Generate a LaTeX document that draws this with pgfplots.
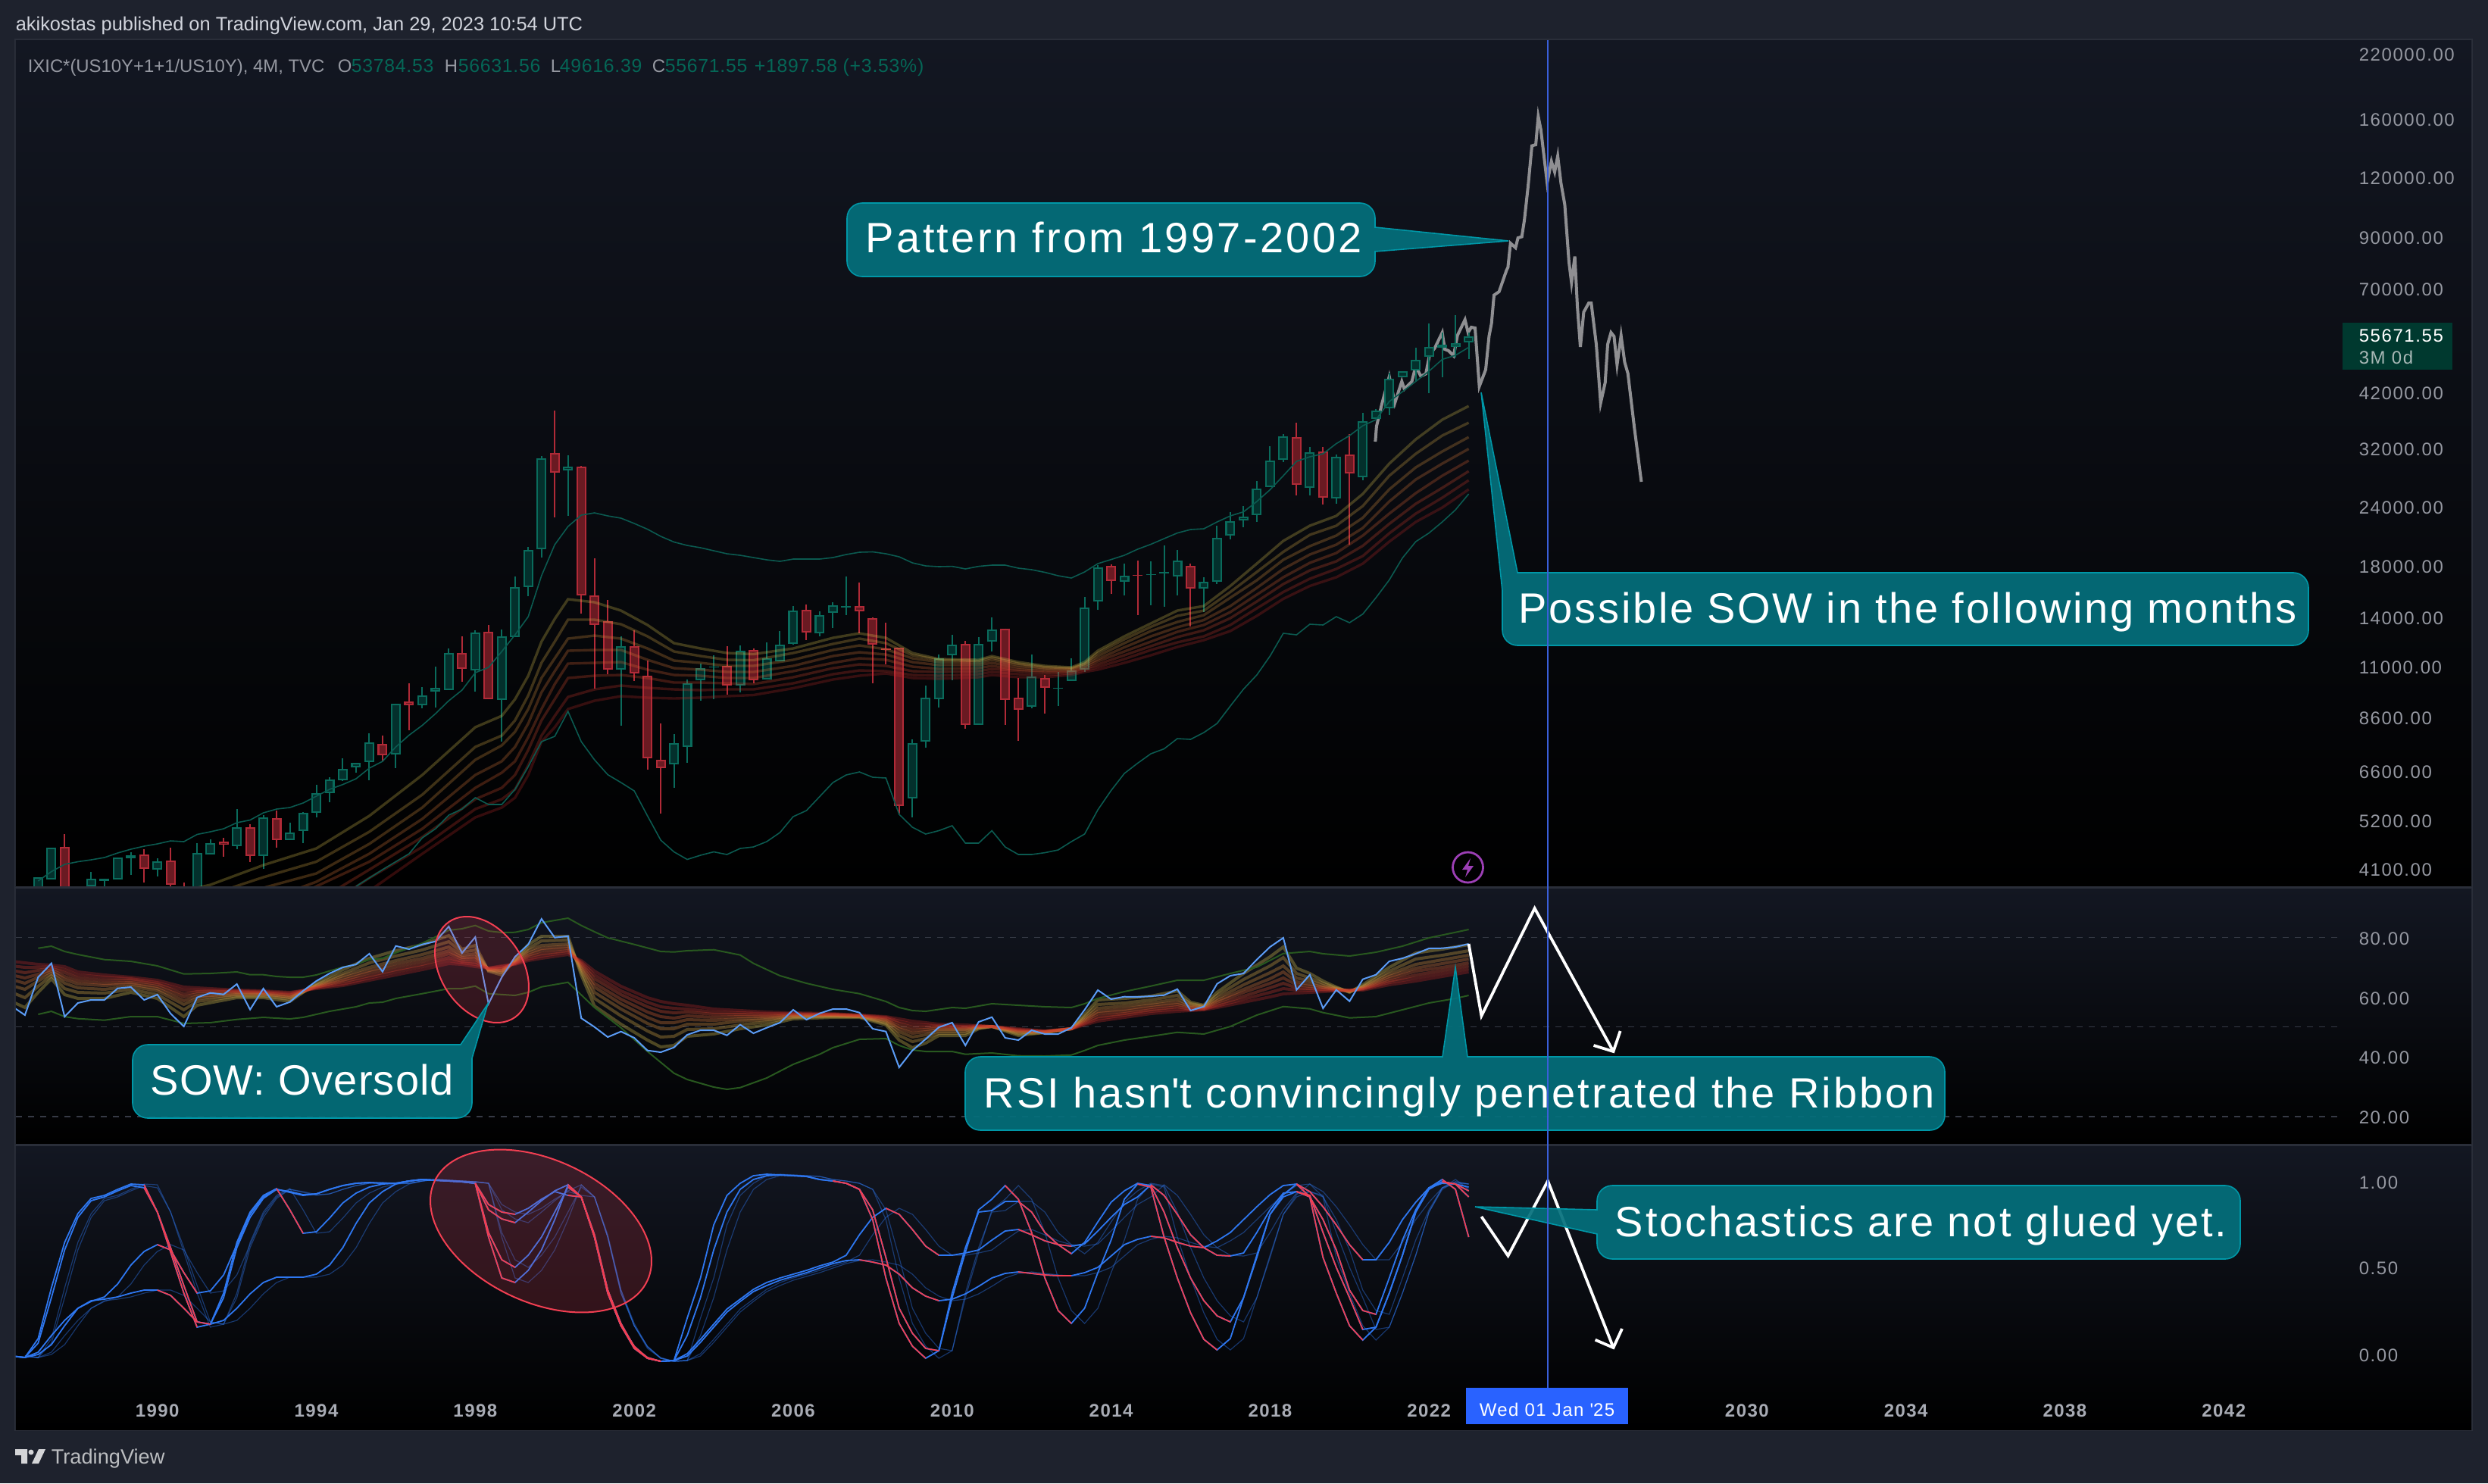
\documentclass[border=0pt]{standalone}
\usepackage{fontspec}
\setmainfont{Liberation Sans}
\usepackage{pgfplots}
\usepackage{pgfplotstable}
\pgfplotsset{compat=1.18}
\definecolor{page}{HTML}{1E222D}
\definecolor{frame}{HTML}{2A2E39}
\definecolor{dashc}{HTML}{363A45}
\definecolor{panetop}{HTML}{131722}
\definecolor{upc}{HTML}{0A6B5C}
\definecolor{upf}{HTML}{03302C}
\definecolor{dnc}{HTML}{B02A37}
\definecolor{dnf}{HTML}{6A1A22}
\definecolor{bbteal}{HTML}{0B5A50}
\definecolor{bbgreen}{HTML}{28581F}
\definecolor{rsil}{HTML}{5B9CF6}
\definecolor{kblue}{HTML}{2E77F0}
\definecolor{kred}{HTML}{F23F52}
\definecolor{callf}{HTML}{04707C}
\definecolor{callb}{HTML}{0097A7}
\definecolor{txtg}{HTML}{9598A1}
\definecolor{yrg}{HTML}{A8ABB4}
\definecolor{valg}{HTML}{056656}
\definecolor{patg}{HTML}{8F8F92}
\definecolor{xhair}{HTML}{3A5FD9}
\definecolor{dateb}{HTML}{2962FF}
\definecolor{tagf}{HTML}{00392F}
\definecolor{bolt}{HTML}{9C3FB5}
\definecolor{hdrt}{HTML}{D1D4DC}
\definecolor{rb1}{HTML}{E0C850}
\definecolor{rb2}{HTML}{E0B048}
\definecolor{rb3}{HTML}{E09640}
\definecolor{rb4}{HTML}{E07C3A}
\definecolor{rb5}{HTML}{E06434}
\definecolor{rb6}{HTML}{DC4C30}
\definecolor{rb7}{HTML}{D0382C}
\definecolor{rb8}{HTML}{C02A28}

\newcommand\tk{\fontsize{6}{7}\selectfont\addfontfeature{LetterSpace=6.5}}
\newcommand\yr{\fontsize{6}{7}\selectfont\bfseries\addfontfeature{LetterSpace=6}}
\newcommand\datetxt{\fontsize{6}{7}\selectfont\addfontfeature{LetterSpace=6}}
\newcommand\bigtxt[1]{\fontsize{14}{17}\selectfont\addfontfeature{LetterSpace=#1}}

% every y below is a row of the reference, counted down from its top edge:
% the price pane is a log scale, so its ticks carry the prices as labels.
% i is the number of the 4-month bar, bar 0 being Jan 1987.

% i high top bottom low
\pgfplotstableread{
i h top bot l
0 1158 1158 1176.6 1176.6
1 1119 1119 1161 1161
3 1170 1170 1181 1181
4 1151.4 1160 1170 1180
5 1159.6 1159.6 1162.7 1175
6 1131.5 1131.5 1161 1161
7 1124.5 1129 1132.8 1155
9 1133 1136.7 1148.4 1157
12 1113 1126 1177 1177
13 1108 1113 1128 1128
15 1068 1092 1117 1120.6
17 1076 1078.5 1130 1147
19 1086 1099 1109 1109
20 1071.6 1073 1097 1113
21 1035.6 1047 1073 1078.5
22 1025.6 1028.7 1046.5 1058.6
23 1001 1014.8 1029.5 1031
24 1007 1007 1013 1019.6
25 967.5 979.7 1006 1030
27 928.5 928.5 996 1014
29 906.8 917.6 931 935
30 880 907.7 913.3 933.7
31 855.6 861.7 911 911
33 831.8 835 885 913
35 830.5 839.6 924 979
36 761 775.4 841 841
37 722 726.4 775 787
38 602 604.5 725 736
40 601 616 621 681
44 839.6 852.6 884 957.5
48 969 981.4 1009 1039.5
49 897 901.6 986 1006.6
50 875.6 882 898 925
51 865 879.5 880.8 923
53 852 859 905 914
55 847.6 869 897 897
56 833 851 873 873
57 799.5 805.8 849.8 851
59 807 811.6 835.5 839.7
60 794.7 799 809 829
61 760.8 800 801.6 812
66 975.8 981 1054 1078.5
67 904.8 920.7 979 987
68 864 869 922.8 934
69 838 851 864.6 898
71 841 849.8 957 957
72 814.8 831 847 860
75 864 892.6 933.4 935
77 886.8 907.5 908.5 932
78 868.8 885 899 899
79 787.8 801.6 884 887
80 745.5 748.6 794 805
82 744 759.7 767.7 785.7
84 741 757.6 759 799
85 720 754.5 756.6 800.5
86 725.9 740 761 785.7
88 761.9 768 777 808
89 693.6 710 767.7 770.9
90 675.6 688 707 711.6
91 667.6 682 687 696
92 635 644.9 680 689
93 589 608 642.8 642.8
94 572.9 575.5 607 610
96 589.8 596.7 644 653.9
98 600.4 602.5 658 665
100 544.8 556 630 634
101 539.5 541.6 553.3 553.3
102 491.9 499.8 539 547.5
103 489.8 489.8 498 498
104 458.5 475 488.7 503.5
105 427 458 471 519
106 439 454.8 458.5 498
107 416 453 457.5 471.8
108 439 444 452 473.9
}\upbars
\pgfplotstableread{
i h top bot l
2 1100.7 1117.6 1177 1177
8 1121 1128.4 1147 1165
10 1119 1135.8 1168 1177
11 1165 1169.6 1177 1177
14 1106 1110.6 1115.4 1131
16 1087.7 1092 1130 1138
18 1069.5 1080 1109 1119
26 970.6 981.8 997 1005
28 902 925.5 931 964
32 840 861.7 882.5 900
34 824.8 834.4 923.3 923.3
39 542 597.6 624 682.6
41 615 616 786 810
42 737 786 825 908.5
43 792 820 884 889.5
45 832 852.6 889 899
46 872 891.6 1000.5 1016
47 955 1002.7 1013.5 1073.8
52 853 878.6 905 917
54 855.6 857.8 897.7 902
58 798.4 804.8 835 844.5
62 769 800 807.4 836
63 814.8 815.9 850.8 901.6
64 822 855.6 858 877
65 854.5 854.5 1064 1074
70 846 849.8 957 961.5
73 829.6 829.6 923.9 957
74 895 920.7 937 978.4
76 891 894.8 908 942.4
81 745 746.5 767 784
83 740 758.7 760 811.6
87 744.4 746.5 777 827
95 558 576.6 639.6 654.4
97 589.8 595.6 657 665.5
99 572.9 600.4 624.8 718.5
}\dnbars

\pgfplotstableread{
i a b c d e f g h
9 1184 1205 1225 1245 1260 1275 1290 1305
13 1168 1181 1198 1215 1229 1243 1258 1272
17 1142 1158 1172 1190 1205 1220 1235 1250
21 1120 1137.5 1153 1164 1170 1190 1205 1220
25 1077 1098 1114 1127 1137.5 1148 1159 1176
29 1023 1049 1066 1081 1094 1105 1118 1127
33 960 986 1003 1023 1040 1055 1068 1079
35 945 971 984 1005 1020 1040 1055 1066
36 923 951 966 986 1005 1023 1042 1053
37 892 918 936 955 973 990 1010 1023
38 847 875 895 914 936 951 971 979
39 817 847 869 886 903 923 945 960
40 791 818 843 859 876 895 920 936
42 795 818 839 858 875 892 910 925
44 806 824 843 858 874 891 905 919
46 825 840 856 871 884 895 908 921
48 849 860 872 882 891 901 910 922
50 856 866 875 884 892 901 911 921
52 862 871 879 887 895 902 910 919
54 863.5 871.5 879 887 895 903 910 917.5
57 856 862 871 879 886 894 902 908.5
60 842 850 858 866 875 882 890 897
62 836 843 852 861 869 877 885 892
64 842 849 857 864 871 879 886 889
66 862 865 869 874 880 886 891 895
68 870 871 874 878 883 887 892 896
71 871 872.5 875 878 882 886 890 894
72 866 868 871 875 879 883 887 891
74 874 876 878 881 884 886 890 894
76 879 880.5 882 884 886 888 891 894
78 881 882 883 884 886 887 889 891
79 874 876 877 879 881 883 885 887
80 859 862 866 870 873 877 880.5 884
82 840 844 849 854.5 860 865 870 875
84 823 827.5 833 840 847 853 858 865
86 806 813 821 828 834 841 848 854
88 800 806 812 818.5 825 832 840 845
90 773.5 781.5 789 800 808 816 825 833
92 744 755 766 776 785 794 803 813
94 714 728.5 739 751 762 771 781.5 790.5
96 694 706 721 732 743 753 764 773.5
98 681 694 707 719 730 741 751 762
100 652 668 683.5 697 707 720.5 734 744
102 612 628 646 662 678 691.5 704 715
104 580 599 617 633 651 665 678 689
106 554 575 596 612 628 644 657 670
108 536 558 577 592.5 608 622 634 646
}\mainrib

\pgfplotstableread{
i u
0 1163
1 1150.5
2 1141
3 1137.5
4 1135
5 1132
6 1126
7 1121
8 1117
9 1114
10 1110
11 1111
12 1101.5
13 1098
14 1094
15 1086
16 1082.5
17 1073
18 1068
19 1066
20 1060
21 1051
22 1042
23 1035.6
24 1028
25 1014
26 1005
27 986
28 970.5
29 957.5
30 942
31 925
32 911
33 888
34 881
35 860
36 838
37 814
38 760
39 719
40 695
41 680
42 677
43 681
44 684
45 691
46 698.6
47 708
48 715.5
49 720
50 723
51 727
52 731
53 733
54 736
55 739
56 741
57 738
58 738
59 738
60 736
61 732
62 729
63 728.5
64 731
65 735
66 743
67 747
68 748
69 747.6
70 751
71 747.6
72 746
73 746
74 750
75 752
76 755.5
77 760
78 763
79 755
80 744
81 738.6
82 733
83 725
84 718.5
85 711
86 703.6
87 699
88 698
89 689
90 681
91 675.6
92 662
93 646.5
94 628
95 609
96 603
97 599
98 585.6
99 575
100 562
101 554
102 530
103 517
104 503.5
105 490
106 474.4
107 469
108 458.5
}\mainup
\pgfplotstableread{
i l
24 1170
26 1148
28 1127
29 1106
30 1094
31 1076
32 1068
33 1053
34 1062
35 1062
36 1042
37 1012
38 979
39 972
40 939
41 979
42 1003
43 1022.6
44 1033
45 1044
46 1077
47 1109
48 1124.5
49 1134.5
50 1129
51 1124.5
52 1128
53 1120
54 1118
55 1111
56 1099
57 1078
58 1070
59 1051.5
60 1033
61 1023
62 1019
63 1026
64 1027
65 1075
66 1092
67 1101
68 1096.5
69 1090
70 1113
71 1113
72 1096.5
73 1118
74 1128
75 1128
76 1125.6
77 1122
78 1111
79 1101
80 1069
81 1043.5
82 1021
83 1007.5
84 995
85 988.5
86 975
87 976
88 967
89 955
90 932
91 909.6
92 891
93 866
94 836
95 838
96 824
97 825
98 814
99 822
100 810.6
101 789
102 765.6
103 736.5
104 715
105 703.6
106 689
107 673
108 652
}\mainlo

% the grey projection: its points do not sit on bars
\pgfplotstableread{
i p
100.95 583
101.04 562.7
101.46 532
102.0 497
102.42 532
102.95 503.5
103.14 513.6
103.71 503.5
104.0 483
104.38 496.7
104.76 493.4
105.05 468
105.43 459.6
106.0 439
106.19 461
106.48 463
106.86 469.7
107.15 442.7
107.72 422
107.95 439
108.19 432
108.48 433
108.8 510
109.28 488
109.53 444
109.72 427
109.91 389.6
110.29 385
110.86 356.5
110.96 353
111.15 321
111.53 327
111.72 314
112.01 312.5
112.2 290.6
112.49 245
112.77 192.5
113.06 191
113.25 153.7
113.44 170.6
113.92 241.5
114.24 213
114.49 227
114.72 206
114.96 241.5
115.25 270
115.57 346
115.76 373
116.01 338.5
116.2 404
116.43 458
116.68 412
117.06 400
117.25 400
117.63 454.5
117.96 532
118.3 505
118.49 454.5
118.74 439
118.97 444
119.2 481.5
119.5 443
119.77 478
120.02 493
120.5 564
121.03 636
}\patt

\pgfplotstableread{
i r
-2 1328
-1 1340
0 1290
1 1271.7
2 1342
3 1324
4 1320
5 1320
6 1304.7
7 1303
8 1320
9 1313
10 1338
11 1355
12 1316.7
13 1310.7
14 1312.7
15 1299
16 1332.7
17 1305
18 1329
19 1322.7
20 1308
21 1295
22 1285
23 1277
24 1273
25 1259
26 1282.7
27 1248.7
28 1253
29 1246.7
30 1242.7
31 1223
32 1258
33 1237
34 1325
35 1290
36 1263
37 1246.7
38 1213
39 1237.7
40 1235.7
41 1344
42 1355.7
43 1369
44 1361.7
45 1370
46 1386.7
47 1389
48 1382.7
49 1366
50 1360
51 1360
52 1366.7
53 1352.7
54 1364
55 1356.7
56 1350
57 1333
58 1346
59 1337.7
60 1332
61 1332
62 1336.7
63 1358
64 1361.7
65 1409
66 1386.7
67 1371.7
68 1356
69 1350
70 1380
71 1349
72 1342.7
73 1370
74 1373
75 1360
76 1365
77 1365
78 1356.7
79 1333
80 1307
81 1319
82 1315.7
83 1316
84 1315
85 1313.7
86 1305.7
87 1334
88 1328.7
89 1298.7
90 1288
91 1285
92 1266.7
93 1250
94 1238
95 1306.7
96 1286.7
97 1331
98 1306.7
99 1321.7
100 1292.7
101 1286.7
102 1269
103 1265
104 1259
105 1252
106 1251.7
107 1250
108 1246
}\rsiline

\pgfplotstableread{
i u
0 1251.7
1 1249
2 1256
3 1260
5 1266.7
7 1269
9 1275
11 1285.7
13 1285
15 1283
16 1286.7
17 1286.7
18 1289
19 1290
20 1290
21 1287
22 1281.7
23 1276.7
24 1273
25 1266.7
26 1265
27 1257.7
28 1251.7
29 1245
30 1236.7
31 1228
32 1226
33 1221.7
34 1229
35 1231
36 1230.7
37 1227
38 1218
39 1215
40 1212
41 1221.7
42 1230
43 1238
45 1246.7
47 1256
48 1256.7
49 1255
51 1253.7
53 1260.7
54 1271.7
56 1288
58 1298
60 1306
62 1311.7
64 1322
65 1330
66 1334
67 1335
69 1330
70 1331
72 1325
74 1327
76 1329
78 1330
79 1325
80 1318
82 1309
84 1301.7
86 1294
88 1294
90 1285
92 1276.7
94 1258.7
96 1256
97 1259
99 1262
101 1257
103 1249
105 1238
107 1230.7
108 1227
}\rsiup
\pgfplotstableread{
i l
0 1339
1 1335
2 1342
3 1344.7
5 1346.7
7 1342
9 1342
11 1351
13 1350
15 1345.7
17 1343
19 1345
20 1343
22 1335
24 1329
25 1324
26 1323
27 1318
29 1311.7
31 1305
32 1305
33 1301.7
34 1311.7
36 1314
37 1310
38 1302.7
40 1296.7
42 1330
44 1356.7
46 1388
48 1416.7
49 1425
51 1435
52 1438
53 1435.7
55 1423
57 1405
59 1391.7
60 1383
62 1372
64 1371
65 1380
66 1386
67 1388
69 1388
70 1391.7
72 1390
74 1393.7
76 1394
78 1392.7
79 1386.7
80 1380
82 1373
84 1368
86 1362.7
88 1365
90 1355
92 1340
94 1328.7
96 1331.7
97 1336.7
99 1343.7
101 1342
103 1333
105 1324
107 1318
108 1314
}\rsilo

\pgfplotstableread{
i a b c d e f g h
-2 1322 1310 1301 1293 1287 1281 1275 1269
-1 1330 1317 1306 1298 1291 1284 1277 1271
0 1310 1302 1295 1290 1286 1281 1277 1273
1 1292 1288 1285 1282 1280 1278 1276 1274
2 1313 1305 1298 1293 1289 1284 1280 1276
3 1318 1310 1304 1299 1295 1291 1287 1283
5 1318 1311 1306 1301 1298 1294 1290 1287
7 1310 1306 1302 1299 1297 1294 1292 1290
9 1318 1313 1308 1305 1302 1299 1297 1294
11 1342 1333 1326 1321 1316 1312 1307 1303
12 1327 1322 1318 1315 1312 1309 1307 1304
15 1317 1315 1313 1312 1310 1309 1308 1307
17 1317 1315 1313 1312 1311 1310 1309 1308
19 1322 1319 1317 1316 1314 1313 1311 1310
21 1298 1300 1301 1302 1303 1303 1304 1305
23 1280 1285 1288 1291 1294 1296 1299 1301
25 1265 1271 1277 1281 1284 1288 1291 1294
27 1255 1262 1268 1272 1276 1280 1283 1287
29 1247 1254 1260 1265 1269 1273 1276 1280
31 1235 1243 1250 1255 1259 1264 1268 1272
32 1253 1257 1261 1264 1266 1269 1271 1273
33 1248 1254 1259 1263 1266 1270 1273 1276
34 1282 1281 1280 1280 1279 1279 1278 1278
35 1287 1284 1282 1281 1279 1278 1276 1275
36 1267 1268 1269 1270 1271 1272 1272 1273
37 1247 1252 1255 1258 1261 1263 1266 1268
38 1236 1242 1248 1252 1255 1259 1262 1265
40 1236 1241 1246 1249 1252 1255 1257 1260
41 1287 1283 1279 1277 1274 1272 1270 1268
42 1328 1318 1310 1303 1298 1292 1287 1282
44 1352 1341 1332 1325 1319 1313 1308 1302
46 1373 1361 1351 1343 1336 1329 1323 1317
47 1382 1369 1358 1350 1342 1335 1329 1322
48 1380 1368 1358 1350 1344 1337 1331 1325
49 1368 1359 1352 1346 1341 1336 1332 1327
51 1365 1358 1352 1347 1343 1339 1336 1332
53 1358 1353 1348 1345 1342 1339 1337 1334
55 1353 1349 1346 1344 1342 1340 1338 1336
57 1345 1343 1342 1341 1340 1339 1338 1337
60 1343 1342 1341 1340 1340 1339 1339 1338
62 1343 1342 1342 1341 1341 1341 1340 1340
64 1353 1351 1349 1347 1346 1344 1343 1342
65 1373 1367 1362 1358 1355 1351 1348 1345
66 1383 1375 1369 1364 1360 1356 1352 1348
67 1377 1371 1366 1362 1359 1356 1353 1350
68 1367 1364 1361 1359 1357 1355 1354 1352
70 1367 1364 1361 1359 1358 1356 1355 1353
71 1358 1357 1356 1356 1355 1355 1354 1354
72 1355 1355 1355 1355 1355 1355 1355 1355
74 1367 1365 1363 1362 1361 1360 1359 1358
76 1363 1363 1362 1362 1362 1362 1361 1361
78 1358 1358 1358 1358 1358 1358 1358 1358
80 1320 1326 1331 1335 1338 1342 1345 1348
82 1318 1324 1328 1332 1335 1338 1340 1343
84 1315 1320 1324 1327 1330 1333 1335 1338
86 1308 1314 1319 1323 1326 1329 1332 1335
87 1323 1325 1327 1329 1330 1332 1333 1334
88 1327 1328 1329 1330 1331 1332 1332 1333
89 1310 1314 1318 1321 1323 1326 1328 1330
91 1285 1293 1300 1306 1310 1315 1319 1323
93 1263 1275 1284 1292 1298 1304 1310 1316
94 1250 1264 1275 1283 1291 1298 1305 1312
95 1278 1285 1291 1296 1300 1304 1307 1311
96 1285 1291 1295 1299 1302 1305 1307 1310
97 1295 1298 1301 1303 1304 1306 1307 1309
98 1303 1304 1305 1306 1306 1307 1307 1308
99 1310 1309 1309 1308 1308 1308 1307 1307
100 1300 1302 1303 1304 1305 1305 1306 1307
102 1277 1282 1286 1289 1292 1295 1297 1300
104 1258 1266 1273 1278 1282 1287 1291 1295
106 1253 1261 1267 1272 1277 1281 1285 1289
108 1247 1255 1261 1266 1271 1275 1279 1283
}\rsirib

\pgfplotstableread{
i a b c d
-2 1790 1790 1790 1790
-1 1792 1792 1792 1792
0 1767 1773 1785 1788
1 1700 1713 1763 1775
2 1640 1650 1743 1750
3 1602 1607 1727 1727
4 1582 1585 1718 1717
5 1578 1580 1712 1715
6 1570 1572 1695 1712
7 1563 1565 1670 1707
8 1564 1568 1652 1703
9 1600 1600 1643 1703
10 1653 1647 1650 1710
11 1707 1697 1680 1727
12 1752 1745 1707 1745
13 1748 1748 1704 1748
14 1707 1713 1683 1743
15 1640 1647 1643 1727
16 1600 1607 1603 1708
17 1578 1582 1580 1693
18 1569 1570 1570 1686
19 1597 1573 1574 1686
20 1628 1577 1578 1686
21 1626 1576 1576 1682
22 1608 1570 1570 1670
23 1588 1565 1565 1647
24 1575 1562 1562 1615
25 1567 1561 1561 1588
26 1563 1562 1562 1573
27 1562 1562 1562 1563
28 1559 1559 1559 1559
29 1557 1557 1557 1557
30 1558 1558 1558 1558
31 1559 1559 1559 1559
32 1560 1560 1560 1560
33 1562 1562 1562 1562
34 1633 1627 1597 1590
35 1687 1663 1609 1600
36 1693 1673 1614 1603
37 1677 1657 1600 1595
38 1650 1633 1585 1583
39 1610 1600 1572 1573
40 1564 1567 1564 1578
41 1580 1580 1580 1580
42 1633 1630 1633 1633
43 1707 1703 1707 1703
44 1750 1747 1750 1750
45 1777 1778 1780 1778
46 1793 1793 1793 1792
47 1797 1797 1797 1797
48 1796 1796 1796 1796
49 1740 1763 1787 1790
50 1687 1713 1768 1772
51 1617 1650 1748 1752
52 1578 1600 1728 1732
53 1562 1570 1715 1718
54 1552 1557 1702 1705
55 1550 1552 1693 1697
56 1551 1551 1687 1690
57 1552 1552 1682 1685
58 1553 1553 1677 1680
59 1557 1557 1671 1674
60 1559 1559 1666 1668
61 1562 1562 1657 1664
62 1570 1570 1630 1663
63 1610 1597 1607 1666
64 1687 1660 1595 1670
65 1747 1727 1603 1682
66 1777 1760 1623 1700
67 1793 1780 1645 1711
68 1783 1783 1657 1717
69 1713 1707 1657 1715
70 1653 1647 1654 1708
71 1597 1600 1650 1698
72 1583 1598 1637 1687
73 1565 1586 1625 1681
74 1583 1586 1623 1679
75 1627 1600 1630 1681
76 1687 1627 1638 1683
77 1730 1643 1643 1684
78 1747 1655 1645 1684
79 1727 1640 1642 1680
80 1680 1613 1625 1673
81 1637 1587 1607 1658
82 1583 1572 1590 1643
83 1563 1562 1580 1636
84 1567 1565 1564 1632
85 1633 1600 1578 1634
86 1687 1647 1603 1640
87 1733 1687 1630 1645
88 1768 1717 1647 1647
89 1782 1737 1657 1638
90 1767 1745 1658 1627
91 1713 1713 1654 1610
92 1660 1657 1627 1593
93 1603 1603 1597 1577
94 1577 1580 1575 1565
95 1563 1573 1573 1563
96 1580 1578 1580 1573
97 1660 1627 1610 1593
98 1707 1673 1650 1617
99 1750 1713 1703 1643
100 1769 1755 1730 1663
101 1752 1752 1735 1663
102 1707 1707 1687 1640
103 1657 1657 1637 1610
104 1600 1600 1597 1587
105 1568 1570 1568 1568
106 1557 1560 1560 1562
107 1570 1563 1563 1563
108 1633 1580 1572 1567
}\stoch

\pgfplotsset{
  table/bar/.style={x expr=1987+\thisrow{i}/3},
  pane/.style={
    scale only axis, width=810.25pt,
    xmin=1986.44, xmax=2048.23, y dir=reverse,
    axis line style={draw=none}, tick style={draw=none}, major tick length=0pt,
    xtick=\empty,
    yticklabel pos=right,
    yticklabel style={anchor=west, inner sep=0pt, xshift=-37.25pt, text=txtg, font=\tk},
    axis background/.style={shade, top color=panetop, bottom color=black},
  },
  rib/.style={line width=#1, no marks},
  wick/.style={draw=none, no markers, forget plot,
    error bars/.cd, y dir=both, y explicit, error mark=none,
    error bar style={draw=#1, line width=.5pt}},
  bodyo/.style={draw=none, no markers, forget plot,
    error bars/.cd, y dir=plus, y explicit, error mark=none,
    error bar style={draw=#1, line width=3.25pt}},
  bodyi/.style={draw=none, no markers, forget plot,
    error bars/.cd, y dir=plus, y explicit, error mark=none,
    error bar style={draw=#1, line width=2.2pt}},
  kline/.style={kblue, line width=.45pt, no marks},
  dline/.style={kblue, opacity=.42, line width=.3pt, no marks,
    restrict expr to domain={\thisrow{i}}{-2:107}},
  legk/.style={kred, line width=.42pt, no marks},
  dashl/.style={dashc, line width=.35pt, dash pattern=on 2pt off 2pt, no marks},
}
\newcommand\candles[3]{%
  \addplot[wick=#2] table[bar, y=top, y error plus expr=\thisrow{l}-\thisrow{top}, y error minus expr=\thisrow{top}-\thisrow{h}] #1;
  \addplot[bodyo=#2] table[bar, y=top, y error plus expr=\thisrow{bot}-\thisrow{top}] #1;
  \addplot[bodyi=#3] table[bar, y expr=\thisrow{top}+2, y error plus expr={max(\thisrow{bot}-\thisrow{top}-4,0)}] #1;
}
\newcommand\ribbon[3]{%
  \addplot[rib=#2, opacity=#3, rb1] table[bar, y=a] #1;
  \addplot[rib=#2, opacity=#3, rb2] table[bar, y=b] #1;
  \addplot[rib=#2, opacity=#3, rb3] table[bar, y=c] #1;
  \addplot[rib=#2, opacity=#3, rb4] table[bar, y=d] #1;
  \addplot[rib=#2, opacity=#3, rb5] table[bar, y=e] #1;
  \addplot[rib=#2, opacity=#3, rb6] table[bar, y=f] #1;
  \addplot[rib=#2, opacity=#3, rb7] table[bar, y=g] #1;
  \addplot[rib=#2, opacity=#3, rb8] table[bar, y=h] #1;
}
\newcommand\stfam[1]{%
  \addplot[dline] table[x expr=1987+(\thisrow{i}+1)/3, y=#1] \stoch;
  \addplot[kline] table[bar, y=#1] \stoch;
}
\newcommand\leg[3]{\addplot[legk, restrict expr to domain={\thisrow{i}}{#2:#3}] table[bar, y=#1] \stoch;}

\begin{document}
\begin{tikzpicture}
\path[use as bounding box] (0,0) rectangle (821pt,-489.5pt);
\fill[page] (0,0) rectangle (821pt,-489.5pt);
\fill[frame] (4.75pt,-12.75pt) rectangle (816pt,-472.25pt);

\begin{axis}[pane, at={(5.25pt,-13.25pt)}, anchor=north west, height=279.25pt,
  ymin=53, ymax=1170,
  ytick={72,158,235.7,314,382,519,593,670.5,748.4,816,881.5,948,1019.6,1084,1148},
  yticklabels={220000.00,160000.00,120000.00,90000.00,70000.00,42000.00,32000.00,24000.00,18000.00,14000.00,11000.00,8600.00,6600.00,5200.00,4100.00}]
  \addplot[patg, line width=1pt, no marks] table[bar, y=p] \patt;
  \candles{\upbars}{upc}{upf}
  \candles{\dnbars}{dnc}{dnf}
  \ribbon{\mainrib}{.85pt}{.27}
  \addplot[bbteal, line width=.4pt, no marks] table[bar, y=u] \mainup;
  \addplot[bbteal, line width=.4pt, no marks] table[bar, y=l] \mainlo;
\end{axis}

\begin{axis}[pane, at={(5.25pt,-293.125pt)}, anchor=north west, height=84.375pt,
  ymin=1172.5, ymax=1510,
  ytick={1237.7,1316.5,1395.3,1474}, yticklabels={80.00,60.00,40.00,20.00},
  yticklabel style={yshift=-.35pt}]
  \addplot[dashl] coordinates {(1986.44,1237.7)(2044.95,1237.7)};
  \addplot[dashl] coordinates {(1986.44,1355.7)(2044.95,1355.7)};
  \addplot[dashl] coordinates {(1986.44,1474)(2044.95,1474)};
  \ribbon{\rsirib}{1pt}{.33}
  \addplot[bbgreen, line width=.5pt, no marks] table[bar, y=u] \rsiup;
  \addplot[bbgreen, line width=.5pt, no marks] table[bar, y=l] \rsilo;
  \addplot[rsil, line width=.5pt, no marks] table[bar, y=r] \rsiline;
\end{axis}

\begin{axis}[pane, at={(5.25pt,-378.25pt)}, anchor=north west, height=93.5pt,
  ymin=1513, ymax=1887,
  ytick={1560,1673,1788}, yticklabels={1.00,0.50,0.00},
  yticklabel style={yshift=-.35pt},
  xtick={1990,1994,1998,2002,2006,2010,2014,2018,2022,2030,2034,2038,2042},
  xticklabel style={anchor=center, inner sep=0pt, yshift=6.25pt, text=yrg, font=\yr,
    /pgf/number format/assume math mode=true, /pgf/number format/1000 sep={}}]
  \stfam{d}
  \stfam{c}
  \stfam{b}
  \stfam{a}
  \leg{a}{8}{12} \leg{a}{18}{20} \leg{a}{33}{36} \leg{a}{40}{47} \leg{a}{60}{67}
  \leg{a}{73}{78} \leg{a}{83}{89} \leg{a}{95}{100} \leg{a}{106}{108}
  \leg{b}{8}{13} \leg{b}{33}{36} \leg{b}{40}{47} \leg{b}{60}{68}
  \leg{b}{74}{78} \leg{b}{84}{90} \leg{b}{95}{100} \leg{b}{106}{108}
  \leg{c}{9}{12} \leg{c}{33}{36} \leg{c}{40}{47} \leg{c}{64}{68}
  \leg{c}{74}{78} \leg{c}{84}{90} \leg{c}{95}{101} \leg{c}{106}{108}
  \leg{d}{9}{12} \leg{d}{33}{36} \leg{d}{40}{47} \leg{d}{62}{68}
  \leg{d}{74}{78} \leg{d}{84}{88} \leg{d}{95}{100}
\end{axis}

% pane separators and everything drawn over the chart, in reference pixels
\begin{scope}[x=0.25pt, y=-0.25pt]
  \fill[frame] (21,1170) rectangle (3262,1172.5);
  \fill[frame] (21,1510) rectangle (3262,1513);

  % red ellipses
  \draw[kred, line width=.5pt, fill=kred, fill opacity=.18, rotate around={-55.4:(636,1280)}] (636,1280) ellipse [x radius=76.6, y radius=53.6];
  \draw[kred, line width=.5pt, fill=kred, fill opacity=.18, rotate around={-25:(714,1625)}] (714,1625) ellipse [x radius=155, y radius=94];

  % white sketched arrows
  \draw[white, line width=.95pt, line join=miter]
    (1938.6,1246) -- (1955.4,1341) -- (2025.6,1199) -- (2129.5,1388);
  \draw[white, line width=.95pt] (2138.6,1361) -- (2129.5,1388) -- (2103.5,1380);
  \draw[white, line width=.95pt, line join=miter]
    (1955.4,1606) -- (1990.5,1657.7) -- (2043,1559) -- (2129.5,1779);
  \draw[white, line width=.95pt] (2141,1754) -- (2129.5,1779) -- (2105.6,1768.7);

  % callouts
  \tikzset{call/.style={fill=callf, draw=callb, line width=.4pt, fill opacity=.92}}
  \draw[call] (1400,268) [rounded corners=5pt] -- (1815,268) [sharp corners] -- (1815,300) -- (1991,318) -- (1815,332) [rounded corners=5pt] -- (1815,365) -- (1118,365) -- (1118,268) -- cycle;
  \draw[call] (2500,756) [rounded corners=5pt] -- (3047,756) -- (3047,852) -- (1983,852) [sharp corners] -- (1983,780) -- (1955,518) -- (2003,756) -- cycle;
  \draw[call] (400,1379) [sharp corners] -- (608,1379) -- (644,1325) -- (623,1397) [rounded corners=5pt] -- (623,1476) -- (175,1476) -- (175,1379) -- cycle;
  \draw[call] (1500,1395) [sharp corners] -- (1904,1395) -- (1921,1277) -- (1937,1395) [rounded corners=5pt] -- (2567,1395) -- (2567,1492) -- (1274,1492) -- (1274,1395) -- cycle;
  \draw[call] (2500,1565) [rounded corners=5pt] -- (2957,1565) -- (2957,1662) -- (2108,1662) [sharp corners] -- (2108,1629) -- (1947,1593) -- (2108,1597) [rounded corners=5pt] -- (2108,1565) -- cycle;
  \tikzset{bigt/.style={anchor=base west, inner sep=0pt, text=white}}
  \node[bigt, font=\bigtxt{6}] at (1142,333) {Pattern from 1997-2002};
  \node[bigt, font=\bigtxt{4.8}] at (2004,822) {Possible SOW in the following months};
  \node[bigt, font=\bigtxt{2}] at (198,1445) {SOW: Oversold};
  \node[bigt, font=\bigtxt{5.2}] at (1298,1462) {RSI hasn\textquotesingle t convincingly penetrated the Ribbon};
  \node[bigt, font=\bigtxt{5.2}] at (2131,1632) {Stochastics are not glued yet.};

  % crosshair and its date
  \draw[xhair, line width=.35pt] (2043,53) -- (2043,1835);
  \fill[dateb] (1935,1832) rectangle (2149,1880);
  \node[anchor=base, inner sep=0pt, text=white, font=\datetxt] at (2042,1869) {Wed 01 Jan \textquotesingle 25};

  % last price tag
  \fill[tagf] (3092,426) rectangle (3237,487.5);
  \node[anchor=base west, inner sep=0pt, text=white, font=\tk] at (3113,451) {55671.55};
  \node[anchor=base west, inner sep=0pt, text=white!65!upf, font=\tk] at (3113,480) {3M 0d};

  % bolt badge
  \draw[bolt, line width=.7pt] (1937.5,1145) circle [radius=20];
  \fill[bolt] (1941,1133) -- (1930,1148) -- (1937,1148) -- (1934,1158) -- (1945,1143) -- (1938,1143) -- cycle;

  % header and legend
  \tikzset{hd/.style={anchor=base west, inner sep=0pt, font=\fontsize{5.97}{7}\selectfont},
           hv/.style={anchor=base west, inner sep=0pt, text=valg, font=\fontsize{6.2}{7}\selectfont\addfontfeature{LetterSpace=3}}}
  \node[hd, text=hdrt, font=\fontsize{6.35}{7}\selectfont] at (20,41) {akikostas published on TradingView.com, Jan 29, 2023 10:54 UTC};
  \node[hd, text=txtg] at (36,96) {IXIC*(US10Y+1+1/US10Y), 4M, TVC};
  \node[hd, text=txtg] at (445,96) {O};
  \node[hv] at (463,96) {53784.53};
  \node[hd, text=txtg] at (586,96) {H};
  \node[hv] at (604,96) {56631.56};
  \node[hd, text=txtg] at (726,96) {L};
  \node[hv] at (738,96) {49616.39};
  \node[hd, text=txtg] at (860,96) {C};
  \node[hv] at (877,96) {55671.55};
  \node[hv] at (995,96) {+1897.58 (+3.53\%)};

  % footer logo
  \fill[white!80!frame] (20,1913) -- (36,1913) -- (36,1932) -- (28,1932) -- (28,1921) -- (20,1921) -- cycle;
  \fill[white!80!frame] (41,1917) circle [radius=3.5];
  \fill[white!80!frame] (51,1913) -- (60,1913) -- (51,1932) -- (42,1932) -- cycle;
  \node[anchor=base west, inner sep=0pt, text=white!70!page, font=\fontsize{6.8}{8}\selectfont] at (67,1932) {TradingView};
\end{scope}
\end{tikzpicture}
\end{document}
